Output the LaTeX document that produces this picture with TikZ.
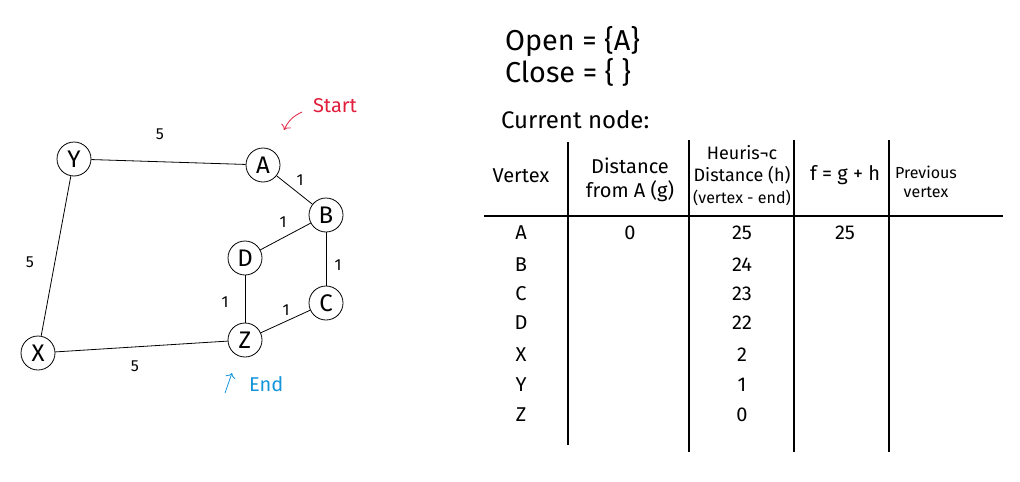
\documentclass[tikz,border=0pt]{standalone}
\usepackage{fontspec}
\setmainfont{Fira Sans}
\usetikzlibrary{arrows.meta}

\definecolor{startred}{RGB}{225,30,60}
\definecolor{endblue}{RGB}{20,150,220}

\begin{document}
\begin{tikzpicture}[x=0.5pt,y=-0.5pt,
  vert/.style={draw,circle,minimum size=17pt,inner sep=0pt,font=\large},
  wt/.style={font=\footnotesize},
  cell/.style={font=\normalsize},
  rule/.style={thick}]
\useasboundingbox (0,0) rectangle (1020,481);
% graph
\node[vert] (Y) at (74,159) {Y};
\node[vert] (A) at (263,165) {A};
\node[vert] (B) at (326,215) {B};
\node[vert] (D) at (245,258) {D};
\node[vert] (C) at (326,303) {C};
\node[vert] (Z) at (245,340) {Z};
\node[vert] (X) at (38,353) {X};
\draw (Y) -- (A);
\draw (A) -- (B);
\draw (B) -- (D);
\draw (B) -- (C);
\draw (Y) -- (X);
\draw (D) -- (Z);
\draw (Z) -- (C);
\draw (X) -- (Z);
\node[wt] (wYA) at (160,134) {5};
\node[wt] (wAB) at (300,180) {1};
\node[wt] (wBD) at (283,222) {1};
\node[wt] (wBC) at (338,265) {1};
\node[wt] (wYX) at (30,262) {5};
\node[wt] (wDZ) at (225,302) {1};
\node[wt] (wZC) at (286,310) {1};
\node[wt] (wXZ) at (135,366) {5};
\node[startred,anchor=west] (start) at (306,106) {Start};
\coordinate (starttip) at (284,130);
\draw[startred,->] (start.west) ++(-4,6) to[bend right=20] (starttip);
\node[endblue,anchor=west] (end) at (242,384) {End};
\coordinate (endtip) at (232,373);
\draw[endblue,->] (end.west) ++(-17,9) -- (endtip);
% lists
\node[font=\Large,anchor=west] (open) at (498,42) {Open = \{A\}};
\node[font=\Large,anchor=west] (close) at (498,72) {Close = \{ \}};
\node[font=\large,anchor=west] (current) at (494,120) {Current node:};
% table
\draw[rule] (484,216) -- (1003,216);
\draw[rule] (568,142) -- (568,445);
\draw[rule] (689,140) -- (689,452);
\draw[rule] (794,140) -- (794,452);
\draw[rule] (889,140) -- (889,452);
\node[cell] (hv) at (521,176) {Vertex};
\node[cell,align=center] (hg) at (630,180) {Distance\\from A (g)};
\node[align=center,font=\small] (hh) at (742,176) {Heuris¬c\\Distance (h)\\{\footnotesize(vertex - end)}};
\node[cell] (hf) at (845,175) {f = g + h};
\node[align=center,font=\footnotesize] (hp) at (926,182) {Previous\\vertex};
\foreach \v/\h/\y in {A/25/233,B/24/265,C/23/294,D/22/323,X/2/355,Y/1/385,Z/0/415}{
  \node[cell] (v\v) at (521,\y) {\v};
  \node[cell] (h\v) at (742,\y) {\h};
}
\node[cell] (gA) at (630,233) {0};
\node[cell] (fA) at (845,233) {25};
\end{tikzpicture}
\end{document}
